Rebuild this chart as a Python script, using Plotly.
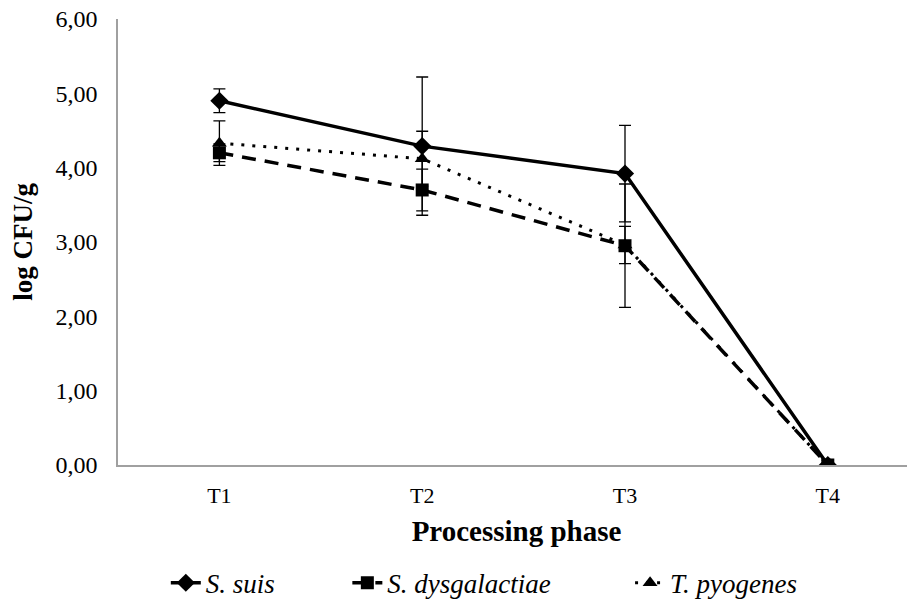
import plotly.graph_objects as go

phases = ["T1", "T2", "T3", "T4"]
s_suis = [4.90, 4.29, 3.92, 0.0]
s_suis_err = [0.16, 0.93, 0.65, 0.0]
s_dys = [4.20, 3.70, 2.95, 0.0]
s_dys_err = [0.12, 0.28, 0.83, 0.0]
t_pyo = [4.33, 4.12, 2.96, 0.0]
t_pyo_err = [0.30, 0.37, 0.25, 0.0]
names = ["S. suis", "S. dysgalactiae", "T. pyogenes"]

FONT = "Liberation Serif"
NB = "\u00a0"

def err(a):
    return dict(type="data", array=a, visible=True, color="black", thickness=1.3, width=6)

fig = go.Figure()
fig.add_trace(go.Scatter(
    x=phases, y=s_suis, name="<i>" + names[0] + "</i>" + NB * 10, mode="lines+markers",
    line=dict(color="black", width=3.5),
    marker=dict(symbol="diamond", size=14, color="black"),
    error_y=err(s_suis_err)))
fig.add_trace(go.Scatter(
    x=phases, y=s_dys, name="<i>" + names[1] + "</i>" + NB * 11, mode="lines+markers",
    line=dict(color="black", width=3.5, dash="14px,9px"),
    marker=dict(symbol="square", size=13, color="black"),
    error_y=err(s_dys_err)))
fig.add_trace(go.Scatter(
    x=phases, y=t_pyo, name="<i>" + names[2] + "</i>", mode="lines+markers",
    line=dict(color="black", width=3, dash="3px,8px"),
    marker=dict(symbol="triangle-up", size=13, color="black"),
    error_y=err(t_pyo_err)))

fig.update_layout(
    width=915, height=604,
    margin=dict(l=110, r=8, t=11, b=147, autoexpand=False),
    paper_bgcolor="white", plot_bgcolor="white",
    separators=", ",
    font=dict(family=FONT, color="black", size=22),
    showlegend=True,
    legend=dict(orientation="h", x=0.06, xanchor="left", y=-0.265, yanchor="middle",
                font=dict(family=FONT, size=27)),
)
fig.update_xaxes(
    type="category", range=[-0.5, 3.43], showgrid=False, automargin=False,
    showline=True, linecolor="#a0a0a0", linewidth=1.5,
    ticks="", ticklabelstandoff=10, tickfont=dict(size=22),
    title=dict(text="<b>Processing phase</b>", font=dict(size=29), standoff=14),
)
fig.update_yaxes(
    range=[0, 6], dtick=1, tickformat=".2f", showgrid=False, zeroline=False,
    automargin=False, ticklabeloverflow="allow",
    showline=True, linecolor="#a0a0a0", linewidth=1.5,
    ticks="", ticklabelstandoff=14, tickfont=dict(size=24),
    title=dict(text="<b>log CFU/g</b>", font=dict(size=27), standoff=15),
)
fig.write_html("out.html")
